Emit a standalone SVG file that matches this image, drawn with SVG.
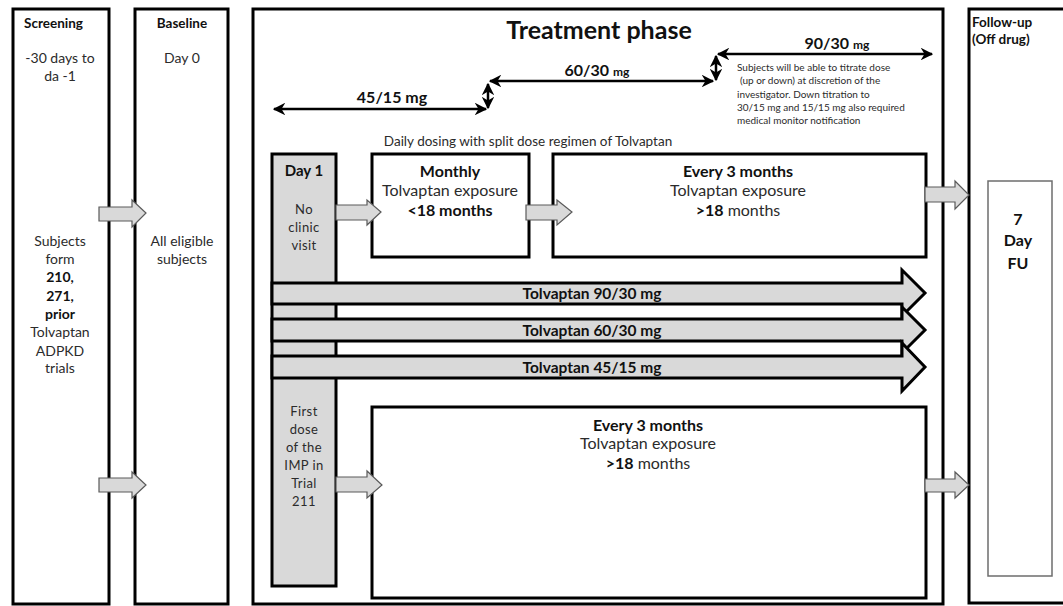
<svg xmlns="http://www.w3.org/2000/svg" width="1063" height="606" viewBox="0 0 1063 606">
<defs>
<marker id="ah" viewBox="0 0 10 10" refX="9" refY="5" markerWidth="5" markerHeight="5" orient="auto-start-reverse" markerUnits="strokeWidth">
<path d="M0,0 L10,5 L0,10 L3,5 Z" fill="#000"/>
</marker>
<style>
.box{fill:#fff;stroke:#000;stroke-width:3}
.gbox{fill:#d9d9d9;stroke:#000;stroke-width:3}
.thin{fill:#fff;stroke:#6d6d6d;stroke-width:1.5}
.blk{fill:#d9d9d9;stroke:#5a5a5a;stroke-width:1.2}
.band{fill:#d9d9d9;stroke:#000;stroke-width:3;stroke-linejoin:miter}
.dim{stroke:#000;stroke-width:2.5;fill:none;marker-start:url(#ah);marker-end:url(#ah)}
text{font-family:Lato,"Liberation Sans",sans-serif;fill:#2b2b2b}
.b{font-weight:bold;fill:#111}
.c{text-anchor:middle}
.h{font-size:13.5px}
.s13{font-size:14px}
.col{font-size:13px;letter-spacing:0.4px}
.s16{font-size:16px}
.s10{font-size:10px}
.band text{}
</style>
</defs>
<rect width="1063" height="606" fill="#fff"/>

<g id="screening">
<rect class="box" x="13" y="9" width="96" height="595"/>
<text class="b h" x="24" y="28">Screening</text>
<text class="s13 c" x="60" y="63">-30 days to</text>
<text class="s13 c" x="60" y="81">da -1</text>
<text class="s13 c" x="60" y="246">Subjects</text>
<text class="s13 c" x="60" y="264">form</text>
<text class="s13 c b" x="60" y="282">210,</text>
<text class="s13 c b" x="60" y="301">271,</text>
<text class="s13 c b" x="60" y="319">prior</text>
<text class="s13 c" x="60" y="337">Tolvaptan</text>
<text class="s13 c" x="60" y="356">ADPKD</text>
<text class="s13 c" x="60" y="373">trials</text>
</g>

<g id="baseline">
<rect class="box" x="135" y="9" width="93" height="595"/>
<text class="b h c" x="182" y="28">Baseline</text>
<text class="s13 c" x="182" y="63">Day 0</text>
<text class="s13 c" x="182" y="246">All eligible</text>
<text class="s13 c" x="182" y="264">subjects</text>
</g>

<g id="treatment">
<rect class="box" x="253" y="9" width="690" height="595"/>
<text class="b c" x="599" y="39" font-size="25">Treatment phase</text>
<text class="c" x="528" y="146" font-size="13.5">Daily dosing with split dose regimen of Tolvaptan</text>
</g>

<g id="followup">
<rect class="box" x="969" y="9" width="110" height="594"/>
<text class="b h" x="972" y="27">Follow-up</text>
<text class="b h" x="972" y="44">(Off drug)</text>
</g>

<g id="fu7">
<rect class="thin" x="988" y="181" width="64" height="395"/>
<text class="b s16 c" x="1018" y="225">7</text>
<text class="b s16 c" x="1018" y="246">Day</text>
<text class="b s16 c" x="1018" y="269">FU</text>
</g>

<g id="day1">
<rect class="gbox" x="272" y="154" width="64" height="432"/>
<text class="b c" x="304" y="176" font-size="15">Day 1</text>
<text class="col c" x="304" y="214">No</text>
<text class="col c" x="304" y="232">clinic</text>
<text class="col c" x="304" y="250">visit</text>
<text class="col c" x="304" y="416">First</text>
<text class="col c" x="304" y="434">dose</text>
<text class="col c" x="304" y="452">of the</text>
<text class="col c" x="304" y="470">IMP in</text>
<text class="col c" x="304" y="488">Trial</text>
<text class="col c" x="304" y="506">211</text>
</g>

<g id="monthly">
<rect class="box" x="372" y="154" width="157" height="103"/>
<text class="b s16 c" x="450" y="177">Monthly</text>
<text class="s16 c" x="450" y="196">Tolvaptan exposure</text>
<text class="b s16 c" x="450" y="216">&lt;18 months</text>
</g>

<g id="every3top">
<rect class="box" x="553" y="154" width="373" height="103"/>
<text class="b s16 c" x="738" y="177">Every 3 months</text>
<text class="s16 c" x="738" y="196">Tolvaptan exposure</text>
<text class="s16 c" x="738" y="216"><tspan class="b">&gt;18</tspan> months</text>
</g>

<g id="every3bottom">
<rect class="box" x="372" y="407" width="554" height="191"/>
<text class="b s16 c" x="648" y="431">Every 3 months</text>
<text class="s16 c" x="648" y="449">Tolvaptan exposure</text>
<text class="s16 c" x="648" y="469"><tspan class="b">&gt;18</tspan> months</text>
</g>

<g id="band90">
<polygon class="band" points="272,283 902,283 902,270 925,293 902,316 902,304 272,304"/>
<text class="b c" font-size="15.5" x="592" y="299">Tolvaptan 90/30  mg</text>
</g>
<g id="band60">
<polygon class="band" points="272,319 902,319 902,307 925,330 902,353 902,341 272,341"/>
<text class="b c" font-size="15.5" x="592" y="336">Tolvaptan 60/30  mg</text>
</g>
<g id="band45">
<polygon class="band" points="272,356 902,356 902,343 925,367 902,391 902,378 272,378"/>
<text class="b c" font-size="15.5" x="592" y="373">Tolvaptan 45/15  mg</text>
</g>

<g id="connectors">
<polygon class="blk" points="99,207 132,207 132,200 146,213 132,227 132,221 99,221"/>
<polygon class="blk" points="99,478 132,478 132,472 146,485 132,498 132,492 99,492"/>
<polygon class="blk" points="336,205 367,205 367,200 381,212 367,225 367,220 336,220"/>
<polygon class="blk" points="526,205 557,205 557,200 572,212 557,225 557,220 526,220"/>
<polygon class="blk" points="925,187 955,187 955,181 969,195 955,209 955,202 925,202"/>
<polygon class="blk" points="336,477 367,477 367,471 382,485 367,498 367,492 336,492"/>
<polygon class="blk" points="925,479 955,479 955,472 969,485 955,498 955,492 925,492"/>

<line class="dim" x1="274" y1="109" x2="486" y2="109"/>
<line class="dim" x1="488" y1="84" x2="488" y2="108"/>
<line class="dim" x1="490" y1="81" x2="713" y2="81"/>
<line class="dim" x1="716" y1="56" x2="716" y2="80"/>
<line class="dim" x1="718" y1="54" x2="932" y2="54"/>
</g>

<g id="dose-labels">
<text class="b c" x="392" y="103" font-size="16">45/15 mg</text>
<text class="b c" x="597" y="76" font-size="16">60/30 <tspan font-size="12">mg</tspan></text>
<text class="b c" x="837" y="49" font-size="16">90/30 <tspan font-size="12">mg</tspan></text>
<text class="s10" x="737" y="71">Subjects will be able to titrate dose</text>
<text class="s10" x="740" y="84">(up or down) at discretion of the</text>
<text class="s10" x="737" y="98">investigator. Down titration to</text>
<text class="s10" x="737" y="111">30/15 mg and 15/15 mg  also required</text>
<text class="s10" x="737" y="124">medical monitor notification</text>
</g>
</svg>
